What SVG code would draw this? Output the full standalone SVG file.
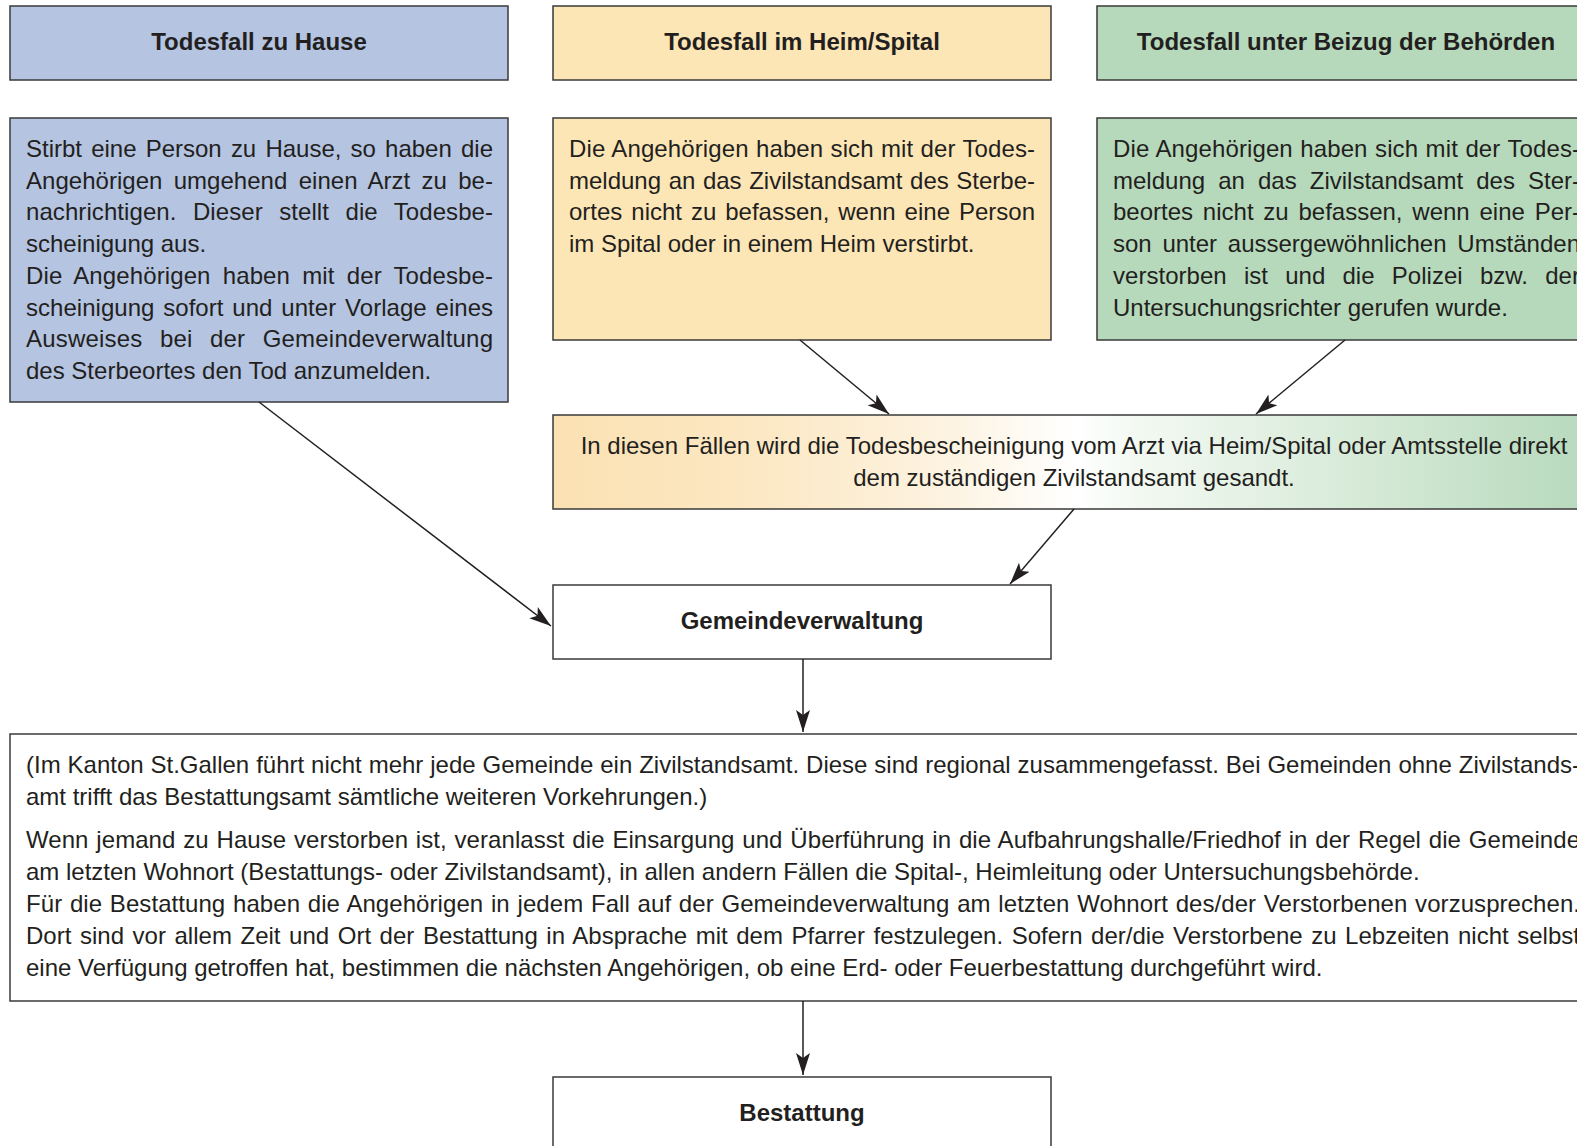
<svg xmlns="http://www.w3.org/2000/svg" width="1577" height="1146" viewBox="0 0 1577 1146">
<style>
.box{stroke:#3a3a3a;stroke-width:1.5}
.t{font-family:"Liberation Sans",Arial,sans-serif;font-size:24px;fill:#231f20}
.b{font-family:"Liberation Sans",Arial,sans-serif;font-size:24px;font-weight:bold;fill:#231f20}
.c{text-anchor:middle}
.conn{stroke:#231f20;stroke-width:1.5;fill:none}
</style>
<defs>
<marker id="ah" markerUnits="userSpaceOnUse" markerWidth="24" markerHeight="16" refX="22" refY="8" orient="auto">
<path d="M0,1 L22,8 L0,15 L5,8 Z" fill="#231f20"/>
</marker>
<linearGradient id="grad" x1="0" y1="0" x2="1" y2="0">
<stop offset="0" stop-color="#fbe1b2"/>
<stop offset="0.2" stop-color="#fce8c4"/>
<stop offset="0.38" stop-color="#fdf3e1"/>
<stop offset="0.5" stop-color="#ffffff"/>
<stop offset="0.56" stop-color="#f3f9f2"/>
<stop offset="0.8" stop-color="#d3e8d4"/>
<stop offset="1" stop-color="#b6d9bc"/>
</linearGradient>
</defs>
<rect width="1577" height="1146" fill="#ffffff"/>

<g id="header-hause">
<rect class="box" x="10" y="6" width="498" height="74" fill="#b4c4e1"/>
<text class="b c" x="259" y="50">Todesfall zu Hause</text>
</g>
<g id="header-heim">
<rect class="box" x="553" y="6" width="498" height="74" fill="#fde6b6"/>
<text class="b c" x="802" y="50">Todesfall im Heim/Spital</text>
</g>
<g id="header-behoerden">
<rect class="box" x="1097" y="6" width="498" height="74" fill="#b6d9bb"/>
<text class="b c" x="1346" y="50">Todesfall unter Beizug der Behörden</text>
</g>

<g id="body-hause">
<rect class="box" x="10" y="118" width="498" height="284" fill="#b4c4e1"/>
<text class="t" x="26" y="157" word-spacing="2.5" textLength="467" lengthAdjust="spacing">Stirbt eine Person zu Hause, so haben die</text>
<text class="t" x="26" y="188.7" word-spacing="4.6" textLength="467" lengthAdjust="spacing">Angehörigen umgehend einen Arzt zu be-</text>
<text class="t" x="26" y="220.4" word-spacing="9.7" textLength="467" lengthAdjust="spacing">nachrichtigen. Dieser stellt die Todesbe-</text>
<text class="t" x="26" y="252.1">scheinigung aus.</text>
<text class="t" x="26" y="283.8" word-spacing="5.4" textLength="467" lengthAdjust="spacing">Die Angehörigen haben mit der Todesbe-</text>
<text class="t" x="26" y="315.5" word-spacing="2.2" textLength="467" lengthAdjust="spacing">scheinigung sofort und unter Vorlage eines</text>
<text class="t" x="26" y="347.2" word-spacing="10.5" textLength="467" lengthAdjust="spacing">Ausweises bei der Gemeindeverwaltung</text>
<text class="t" x="26" y="378.9">des Sterbeortes den Tod anzumelden.</text>
</g>

<g id="body-heim">
<rect class="box" x="553" y="118" width="498" height="222" fill="#fde6b6"/>
<text class="t" x="569" y="157" word-spacing="0.5" textLength="466" lengthAdjust="spacing">Die Angehörigen haben sich mit der Todes-</text>
<text class="t" x="569" y="188.7" word-spacing="0.9" textLength="466" lengthAdjust="spacing">meldung an das Zivilstandsamt des Sterbe-</text>
<text class="t" x="569" y="220.4" word-spacing="2.3" textLength="466" lengthAdjust="spacing">ortes nicht zu befassen, wenn eine Person</text>
<text class="t" x="569" y="252.1">im Spital oder in einem Heim verstirbt.</text>
</g>

<g id="body-behoerden">
<rect class="box" x="1097" y="118" width="498" height="222" fill="#b6d9bb"/>
<text class="t" x="1113" y="157" word-spacing="0.7" textLength="467" lengthAdjust="spacing">Die Angehörigen haben sich mit der Todes-</text>
<text class="t" x="1113" y="188.7" word-spacing="6.4" textLength="467" lengthAdjust="spacing">meldung an das Zivilstandsamt des Ster-</text>
<text class="t" x="1113" y="220.4" word-spacing="3.1" textLength="467" lengthAdjust="spacing">beortes nicht zu befassen, wenn eine Per-</text>
<text class="t" x="1113" y="252.1" word-spacing="4.1" textLength="467" lengthAdjust="spacing">son unter aussergewöhnlichen Umständen</text>
<text class="t" x="1113" y="283.8" word-spacing="10.5" textLength="467" lengthAdjust="spacing">verstorben ist und die Polizei bzw. der</text>
<text class="t" x="1113" y="315.5">Untersuchungsrichter gerufen wurde.</text>
</g>

<g id="zivilstandsamt-direkt">
<rect class="box" x="553" y="415" width="1042" height="94" fill="url(#grad)"/>
<text class="t c" x="1074" y="454">In diesen Fällen wird die Todesbescheinigung vom Arzt via Heim/Spital oder Amtsstelle direkt</text>
<text class="t c" x="1074" y="486">dem zuständigen Zivilstandsamt gesandt.</text>
</g>

<g id="gemeindeverwaltung">
<rect class="box" x="553" y="585" width="498" height="74" fill="#ffffff"/>
<text class="b c" x="802" y="629">Gemeindeverwaltung</text>
</g>

<g id="hinweise">
<rect class="box" x="10" y="734" width="1585" height="267" fill="#ffffff"/>
<text class="t" x="26" y="773" word-spacing="0.3" textLength="1554" lengthAdjust="spacing">(Im Kanton St.Gallen führt nicht mehr jede Gemeinde ein Zivilstandsamt. Diese sind regional zusammengefasst. Bei Gemeinden ohne Zivilstands-</text>
<text class="t" x="26" y="805">amt trifft das Bestattungsamt sämtliche weiteren Vorkehrungen.)</text>
<text class="t" x="26" y="848" word-spacing="1.05" textLength="1554" lengthAdjust="spacing">Wenn jemand zu Hause verstorben ist, veranlasst die Einsargung und Überführung in die Aufbahrungshalle/Friedhof in der Regel die Gemeinde</text>
<text class="t" x="26" y="880">am letzten Wohnort (Bestattungs- oder Zivilstandsamt), in allen andern Fällen die Spital-, Heimleitung oder Untersuchungsbehörde.</text>
<text class="t" x="26" y="912" word-spacing="1" textLength="1554" lengthAdjust="spacing">Für die Bestattung haben die Angehörigen in jedem Fall auf der Gemeindeverwaltung am letzten Wohnort des/der Verstorbenen vorzusprechen.</text>
<text class="t" x="26" y="944" word-spacing="1.84" textLength="1554" lengthAdjust="spacing">Dort sind vor allem Zeit und Ort der Bestattung in Absprache mit dem Pfarrer festzulegen. Sofern der/die Verstorbene zu Lebzeiten nicht selbst</text>
<text class="t" x="26" y="976">eine Verfügung getroffen hat, bestimmen die nächsten Angehörigen, ob eine Erd- oder Feuerbestattung durchgeführt wird.</text>
</g>

<g id="bestattung">
<rect class="box" x="553" y="1077" width="498" height="80" fill="#ffffff"/>
<text class="b c" x="802" y="1121">Bestattung</text>
</g>

<g id="connectors">
<line class="conn" x1="259" y1="402" x2="551" y2="626" marker-end="url(#ah)"/>
<line class="conn" x1="800" y1="340" x2="889" y2="414" marker-end="url(#ah)"/>
<line class="conn" x1="1345" y1="340" x2="1256" y2="414" marker-end="url(#ah)"/>
<line class="conn" x1="1074" y1="509" x2="1010" y2="584" marker-end="url(#ah)"/>
<line class="conn" x1="803" y1="659" x2="803" y2="732" marker-end="url(#ah)"/>
<line class="conn" x1="803" y1="1001" x2="803" y2="1075" marker-end="url(#ah)"/>
</g>
</svg>
